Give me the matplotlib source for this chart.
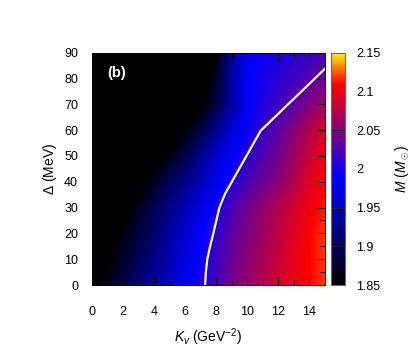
import numpy as np
import matplotlib
matplotlib.use("Agg")
import matplotlib.pyplot as plt
from matplotlib.colors import LinearSegmentedColormap

plt.rcParams['font.family'] = ['Liberation Sans', 'DejaVu Sans']
plt.rcParams['mathtext.fontset'] = 'custom'
plt.rcParams['mathtext.rm'] = 'Liberation Sans'
plt.rcParams['mathtext.it'] = 'Liberation Sans:italic'

# grid nodes
kv_nodes = [0, 1, 2, 3, 4, 5, 6, 7, 8, 9, 10, 11, 12, 13, 14, 15]
delta_nodes = [0, 10, 20, 30, 40, 50, 60, 70, 80, 90]

# maximum mass M (M_sun), one row per Delta node
m_grid = [
    [1.84, 1.865, 1.89, 1.915, 1.935, 1.96, 1.985, 2.005, 2.025, 2.045, 2.06, 2.075, 2.09, 2.10, 2.11, 2.12],
    [1.83, 1.85, 1.875, 1.90, 1.925, 1.95, 1.975, 1.995, 2.02, 2.04, 2.055, 2.07, 2.085, 2.10, 2.11, 2.12],
    [1.82, 1.835, 1.86, 1.885, 1.91, 1.94, 1.965, 1.99, 2.015, 2.035, 2.05, 2.065, 2.08, 2.095, 2.11, 2.12],
    [1.80, 1.815, 1.84, 1.87, 1.895, 1.925, 1.95, 1.975, 2.0, 2.025, 2.045, 2.06, 2.075, 2.09, 2.105, 2.115],
    [1.79, 1.80, 1.82, 1.845, 1.87, 1.90, 1.925, 1.955, 1.98, 2.005, 2.025, 2.04, 2.055, 2.075, 2.095, 2.11],
    [1.78, 1.785, 1.80, 1.815, 1.84, 1.865, 1.895, 1.93, 1.965, 1.99, 2.01, 2.03, 2.045, 2.065, 2.085, 2.105],
    [1.77, 1.775, 1.78, 1.79, 1.805, 1.825, 1.855, 1.89, 1.93, 1.97, 1.995, 2.015, 2.035, 2.055, 2.075, 2.095],
    [1.76, 1.765, 1.77, 1.775, 1.78, 1.79, 1.815, 1.85, 1.89, 1.945, 1.99, 2.005, 2.02, 2.035, 2.05, 2.065],
    [1.75, 1.755, 1.76, 1.765, 1.77, 1.78, 1.795, 1.835, 1.875, 1.945, 1.99, 2.0, 2.01, 2.02, 2.03, 2.04],
    [1.74, 1.745, 1.75, 1.755, 1.76, 1.77, 1.785, 1.825, 1.86, 1.94, 1.985, 1.995, 2.0, 2.01, 2.015, 2.025],
]

# white constraint line
line_kv = [7.28, 7.33, 7.42, 7.6, 7.81, 8.0, 8.2, 8.56, 10.86, 15.0]
line_delta = [0, 5, 10, 15, 20, 25, 30, 35.3, 59.8, 83.8]

cb_ticks = [1.85, 1.9, 1.95, 2.0, 2.05, 2.1, 2.15]
cb_labels = ['1.85', '1.9', '1.95', '2', '2.05', '2.1', '2.15']

vmin, vmax = 1.85, 2.15
def frac(v):
    return (v - vmin) / (vmax - vmin)

cmap = LinearSegmentedColormap.from_list('pal', [
    (0.0, (0, 0, 0)),
    (frac(1.99), (0, 0, 1)),
    (frac(2.11), (1, 0, 0)),
    (frac(2.13), (1, 0.45, 0)),
    (1.0, (1, 0.95, 0)),
])

fig = plt.figure(figsize=(4.16, 3.56), dpi=100)
ax = fig.add_axes([0.2212, 0.1994, 0.5601, 0.6526])
cax = fig.add_axes([0.7957, 0.1994, 0.0337, 0.6526])

dk = kv_nodes[1] - kv_nodes[0]
dd = delta_nodes[1] - delta_nodes[0]
im = ax.imshow(np.array(m_grid), origin='lower', aspect='auto', cmap=cmap,
               vmin=vmin, vmax=vmax, interpolation='bilinear',
               extent=(kv_nodes[0] - dk / 2, kv_nodes[-1] + dk / 2,
                       delta_nodes[0] - dd / 2, delta_nodes[-1] + dd / 2))
ax.plot(line_kv, line_delta, color='white', lw=1.6)

ax.set_xlim(0, 15)
ax.set_ylim(0, 90)
ax.set_xticks(range(0, 15, 2))
ax.set_xticks(range(0, 16, 1), minor=True)
ax.set_yticks(range(0, 91, 10))
ax.set_yticks(range(0, 91, 5), minor=True)
ax.tick_params(which='both', direction='in', top=True, right=True, color='black', width=0.7)
ax.tick_params(which='major', length=6, labelsize=9)
ax.tick_params(which='minor', length=3.5)
ax.tick_params(axis='x', which='major', pad=15)
ax.tick_params(axis='y', which='major', pad=10)
for s in ax.spines.values():
    s.set_linewidth(0.7)

ax.set_xlabel(r'$K_v$ (GeV$^{-2}$)', fontsize=10, labelpad=6)
ax.set_ylabel(r'$\Delta$ (MeV)', fontsize=10, labelpad=4)
ax.text(0.95, 82, '(b)', color='white', fontsize=10.5, fontweight='bold', va='center')

cb = fig.colorbar(im, cax=cax)
cb.set_ticks(cb_ticks)
cb.set_ticklabels(cb_labels)
cb.ax.tick_params(direction='in', length=10, width=0.7, color='#222222', labelsize=9, pad=8)
cb.outline.set_edgecolor('#6b6b4a')
cb.outline.set_linewidth(0.8)
cb.set_label(r'$M$ ($M_\odot$)', fontsize=10, labelpad=9)

fig.savefig('out.png', dpi=100)
